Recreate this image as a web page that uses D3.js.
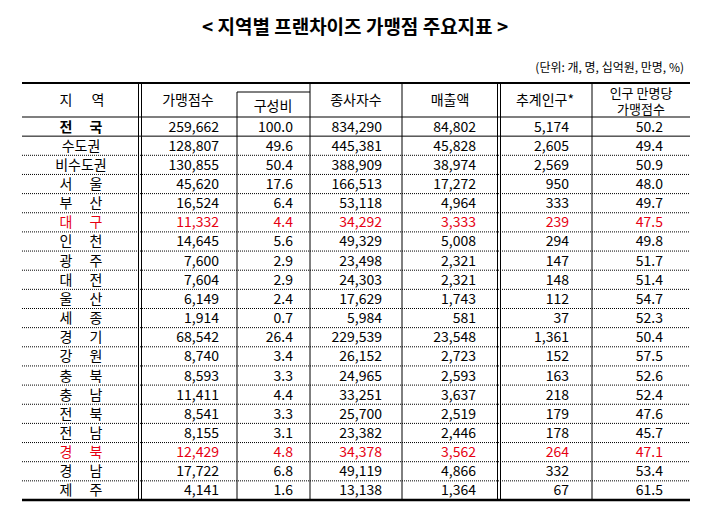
<html>
<head><meta charset="utf-8"></head>
<body style="margin:0;background:#fff">
<svg></svg>
<script src="https://d3js.org/d3.v7.min.js"></script>
<script>
// table data
var regions = ["전 국","수도권","비수도권","서 울","부 산","대 구","인 천","광 주","대 전","울 산","세 종","경 기","강 원","충 북","충 남","전 북","전 남","경 북","경 남","제 주"];
var stores = [259662,128807,130855,45620,16524,11332,14645,7600,7604,6149,1914,68542,8740,8593,11411,8541,8155,12429,17722,4141];
var share = [100.0,49.6,50.4,17.6,6.4,4.4,5.6,2.9,2.9,2.4,0.7,26.4,3.4,3.3,4.4,3.3,3.1,4.8,6.8,1.6];
var workers = [834290,445381,388909,166513,53118,34292,49329,23498,24303,17629,5984,229539,26152,24965,33251,25700,23382,34378,49119,13138];
var sales = [84802,45828,38974,17272,4964,3333,5008,2321,2321,1743,581,23548,2723,2593,3637,2519,2446,3562,4866,1364];
var population = [5174,2605,2569,950,333,239,294,147,148,112,37,1361,152,163,218,179,178,264,332,67];
var perPop = [50.2,49.4,50.9,48.0,49.7,47.5,49.8,51.7,51.4,54.7,52.3,50.4,57.5,52.6,52.4,47.6,45.7,47.1,53.4,61.5];
var redRows = ["대 구","경 북"];

var width = 710, height = 508;
var svg = d3.select("svg").attr("width", width).attr("height", height);
var font = "'Liberation Sans Narrow','Noto Sans CJK KR',sans-serif";
var kfont = "'Noto Sans CJK KR',sans-serif";

var tableTop = 83, headBottom = 117, tableBottom = 500;
var y = d3.scaleBand().domain(d3.range(regions.length)).range([headBottom, tableBottom]);

svg.append("text").attr("x", 355).attr("y", 34).attr("text-anchor","middle")
  .style("font-family", kfont).style("font-size","19px").style("font-weight","bold")
  .text("< 지역별 프랜차이즈 가맹점 주요지표 >");
svg.append("text").attr("x", 684).attr("y", 72).attr("text-anchor","end")
  .style("font-family", kfont).style("font-size","12px").text("(단위: 개, 명, 십억원, 만명, %)");

function hline(yy, w, dash){
  svg.append("line").attr("x1",22).attr("x2",690).attr("y1",yy).attr("y2",yy)
    .attr("stroke","#000").attr("stroke-width",w).attr("stroke-dasharray",dash||null);
}
hline(tableTop, 2);
hline(headBottom, 1.2);
hline(tableBottom, 2.5);
d3.range(1, regions.length).forEach(function(i){ hline(y(i), 1, i==1 ? null : "1,1"); });

// sub header box for 구성비
svg.append("line").attr("x1",237).attr("x2",310).attr("y1",92).attr("y2",92).attr("stroke","#000");
// vertical lines
[[140,true],[237,false,92],[310,false],[402,false],[499,true],[592,false]].forEach(function(v){
  var y1 = v[2] || tableTop;
  var xs = v[1] ? [v[0]-1.5, v[0]+1.5] : [v[0]];
  xs.forEach(function(x){
    svg.append("line").attr("x1",x).attr("x2",x).attr("y1",y1).attr("y2",tableBottom).attr("stroke","#000").attr("stroke-width",1);
  });
});

// header text
var heads = [["가맹점수",188,105],["구성비",273,111],["종사자수",356,105],["매출액",450,105],["추계인구*",545,105]];
heads.forEach(function(h){
  svg.append("text").attr("x",h[1]).attr("y",h[2]).attr("text-anchor","middle")
    .style("font-family",kfont).style("font-size","14px").text(h[0]);
});
["지","역"].forEach(function(c,k){
  svg.append("text").attr("x",k?98:66).attr("y",105).attr("text-anchor","middle")
    .style("font-family",kfont).style("font-size","14px").text(c);
});
svg.append("text").attr("x",641).attr("y",98).attr("text-anchor","middle").style("font-family",kfont).style("font-size","13px").text("인구 만명당");
svg.append("text").attr("x",641).attr("y",114).attr("text-anchor","middle").style("font-family",kfont).style("font-size","13px").text("가맹점수");

// rows
var fmt = d3.format(","), f1 = d3.format(".1f");
var cols = [[stores,219,fmt],[share,293,f1],[workers,382,fmt],[sales,476,fmt],[population,569,fmt],[perPop,663,f1]];
regions.forEach(function(r,i){
  var color = redRows.indexOf(r) >= 0 ? "#e60012" : "#000";
  var ty = y(i) + y.bandwidth()/2 + 5;
  var parts = r.split(" ");
  var pos = parts.length == 2 ? [66, 96] : [81];
  parts.forEach(function(p,k){
    svg.append("text").attr("x",pos[k]).attr("y",ty).attr("text-anchor","middle").attr("fill",color)
      .style("font-family",kfont).style("font-size","14px").style("font-weight", i==0?"bold":"normal").text(p);
  });
  cols.forEach(function(c){
    svg.append("text").attr("x",c[1]).attr("y",ty).attr("text-anchor","end").attr("fill",color)
      .style("font-family",font).style("font-size","14px").text(c[2](c[0][i]));
  });
});
</script>
</body>
</html>
